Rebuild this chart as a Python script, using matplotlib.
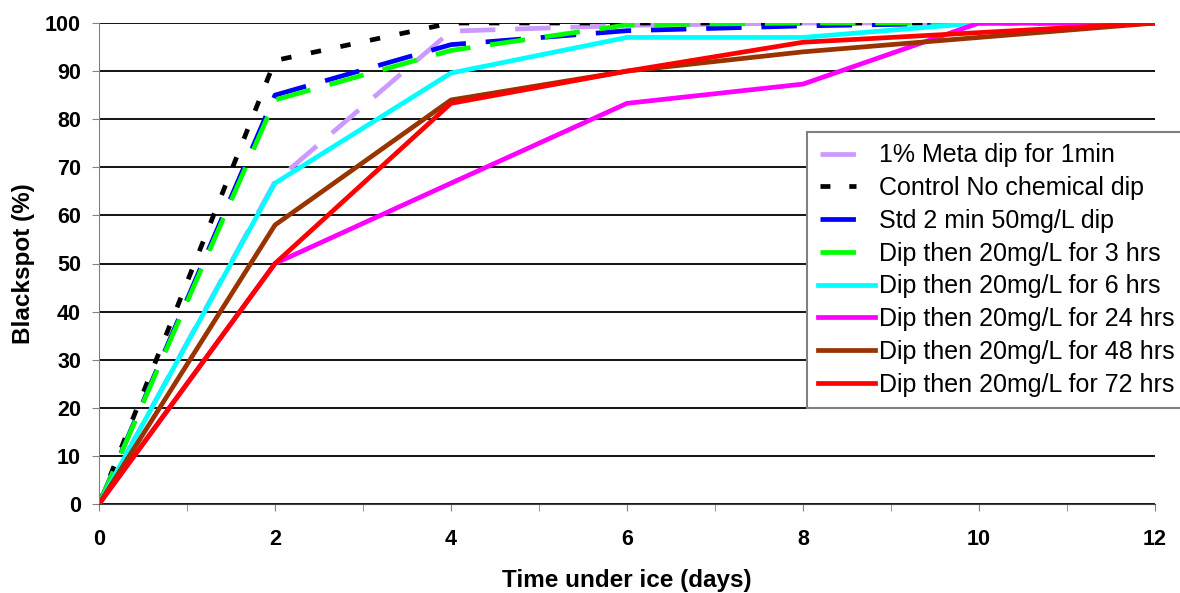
import matplotlib
matplotlib.use("Agg")
import matplotlib.pyplot as plt
from matplotlib.ticker import MultipleLocator

plt.rcParams['font.family'] = ['Liberation Sans', 'DejaVu Sans']

# time under ice (days)
days = [0, 2, 4, 6, 8, 10, 12]

# blackspot (%) per treatment
meta_1min = [0, 67, 98.3, 99.5, 100, 100, 100]
control = [0, 92.2, 100, 100, 100, 100, 100]
std_2min = [0, 85, 95.5, 98.4, 99.4, 100, 100]
dip_3h = [0, 84, 94.3, 99.6, 100, 100, 100]
dip_6h = [0, 66.7, 89.6, 97, 97, 100, 100]
dip_24h = [0, 50, 66.7, 83.3, 87.3, 100, 100]
dip_48h = [0, 58, 84, 90, 94, 97, 100]
dip_72h = [0, 50, 83.3, 90, 96, 98, 100]

labels = ["1% Meta dip for 1min", "Control No chemical dip", "Std 2 min 50mg/L dip",
          "Dip then 20mg/L for 3 hrs", "Dip then 20mg/L for 6 hrs",
          "Dip then 20mg/L for 24 hrs", "Dip then 20mg/L for 48 hrs",
          "Dip then 20mg/L for 72 hrs"]

fig = plt.figure(figsize=(11.8, 5.93), dpi=100)
ax = fig.add_axes([99/1180, 1 - 504/593, 1056/1180, 481/593])

lw = 3.4
ax.plot(days, meta_1min, color='#cc99ff', lw=lw, dashes=(7.5, 4.2), label=labels[0])
ax.plot(days, control, color='black', lw=lw, dashes=(2.2, 4.2), label=labels[1])
ax.plot(days, std_2min, color='#0000ff', lw=lw, dashes=(7.5, 4.2), label=labels[2])
ax.plot(days, dip_3h, color='#00ff00', lw=lw, dashes=(7.5, 4.2), label=labels[3])
ax.plot(days, dip_6h, color='#00ffff', lw=lw, label=labels[4])
ax.plot(days, dip_24h, color='#ff00ff', lw=lw, label=labels[5])
ax.plot(days, dip_48h, color='#993300', lw=lw, label=labels[6])
ax.plot(days, dip_72h, color='#ff0000', lw=lw, label=labels[7])

ax.set_xlim(0, 12)
ax.set_ylim(0, 100)
ax.xaxis.set_major_locator(MultipleLocator(2))
ax.xaxis.set_minor_locator(MultipleLocator(1))
ax.yaxis.set_major_locator(MultipleLocator(10))
ax.grid(axis='y', color='black', lw=1.3)
ax.set_axisbelow(True)

for s in ['top', 'right']:
    ax.spines[s].set_visible(False)
ax.spines['left'].set_color('#808080')
ax.spines['bottom'].set_color('#404040')
ax.tick_params(axis='both', which='both', direction='out', color='#808080', length=5)
ax.tick_params(axis='x', labelsize=15.5, pad=13)
ax.tick_params(axis='y', labelsize=15.5, pad=8)
for t in ax.get_xticklabels() + ax.get_yticklabels():
    t.set_fontweight('bold')

ax.set_xlabel("Time under ice (days)", fontsize=17.5, fontweight='bold', labelpad=14)
ax.set_ylabel("Blackspot (%)", fontsize=17.5, fontweight='bold', labelpad=7)

leg = ax.legend(loc='upper left', bbox_to_anchor=(0.670, 0.773), fontsize=18,
                frameon=True, fancybox=False, edgecolor='#808080', framealpha=1,
                handlelength=2.3, handletextpad=0.15, labelspacing=0.35,
                borderpad=0.45, borderaxespad=0)
leg.get_frame().set_linewidth(1.5)

# the dashed series get a shorter sample line in the legend
for i, line in enumerate(leg.get_lines()[:4]):
    xd = line.get_xdata()
    yd = line.get_ydata()
    line.set_data([xd[0] + 1.5, xd[0] + 0.66 * (xd[-1] - xd[0])], [yd[0], yd[0]])
    if i == 1:
        line.set_dashes((2.1, 4.0))

fig.savefig("out.png", dpi=100)
